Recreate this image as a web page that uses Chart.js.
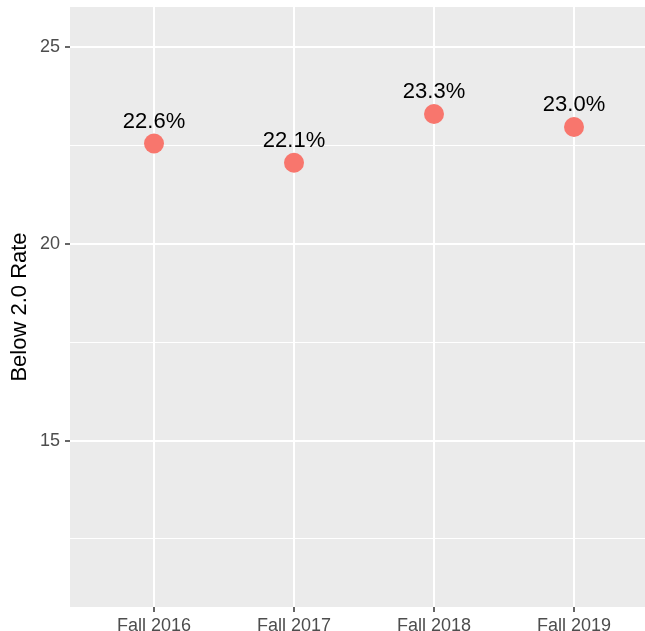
<!DOCTYPE html>
<html lang="en">
<head>
  <meta charset="UTF-8" />
  <title>Below 2.0 Rate</title>
  <script src="https://cdn.jsdelivr.net/npm/chart.js"></script>
  <style>
    html, body { margin: 0; padding: 0; background: #fff; overflow: hidden; }
    .chart-box { position: relative; width: 658px; height: 631px; }
  </style>
</head>
<body>
  <div class="chart-box">
    <canvas id="rateChart"></canvas>
  </div>

  <script>
    // data
    const terms = ['Fall 2016', 'Fall 2017', 'Fall 2018', 'Fall 2019'];
    const rates = [22.55, 22.06, 23.3, 22.97];
    const rateLabels = ['22.6%', '22.1%', '23.3%', '23.0%'];
    const yTicks = [12.5, 15, 17.5, 20, 22.5, 25];

    const isMajor = v => v % 5 === 0;

    // grey ggplot-like panel behind the grid
    const panelBg = {
      id: 'panelBg',
      beforeDraw(chart) {
        const a = chart.chartArea;
        const ctx = chart.ctx;
        ctx.save();
        ctx.fillStyle = '#EBEBEB';
        ctx.fillRect(a.left, a.top, a.right - a.left, a.bottom - a.top);
        ctx.restore();
      }
    };

    // percentage text above each point
    const pointText = {
      id: 'pointText',
      afterDatasetsDraw(chart) {
        const ctx = chart.ctx;
        const meta = chart.getDatasetMeta(0);
        ctx.save();
        ctx.font = '22px "Liberation Sans", Arial, sans-serif';
        ctx.fillStyle = '#000';
        ctx.textAlign = 'center';
        ctx.textBaseline = 'alphabetic';
        meta.data.forEach((pt, i) => {
          ctx.fillText(rateLabels[i], pt.x, pt.y - 16);
        });
        ctx.restore();
      }
    };

    const ctx = document.getElementById('rateChart').getContext('2d');
    new Chart(ctx, {
      type: 'scatter',
      data: {
        datasets: [{
          data: rates.map((r, i) => ({ x: i + 1, y: r })),
          backgroundColor: '#F8766D',
          borderWidth: 0,
          pointRadius: 10,
          pointHoverRadius: 10
        }]
      },
      options: {
        responsive: true,
        maintainAspectRatio: false,
        animation: false,
        layout: { autoPadding: false, padding: { top: 7, right: 0, bottom: 0, left: 0 } },
        plugins: {
          legend: { display: false },
          tooltip: { enabled: false }
        },
        scales: {
          x: {
            type: 'linear',
            min: 0.4,
            max: 4.6,
            afterBuildTicks: s => { s.ticks = terms.map((t, i) => ({ value: i + 1 })); },
            afterFit: s => {
              s.height = 24;
              s.paddingLeft = 0;
              s.paddingRight = 0;
            },
            border: { display: false },
            grid: {
              color: '#FFFFFF',
              lineWidth: 2,
              tickLength: 5,
              tickColor: '#333333',
              tickWidth: 1.5
            },
            ticks: {
              autoSkip: false,
              maxRotation: 0,
              padding: 3,
              color: '#4D4D4D',
              font: { family: '"Liberation Sans", Arial, sans-serif', size: 18 },
              callback: v => terms[v - 1]
            }
          },
          y: {
            min: 10.77,
            max: 26.02,
            afterBuildTicks: s => { s.ticks = yTicks.map(v => ({ value: v })); },
            afterFit: s => {
              s.width = 70;
              s.paddingTop = 0;
              s.paddingBottom = 0;
            },
            border: { display: false },
            grid: {
              color: '#FFFFFF',
              lineWidth: c => (c.tick && isMajor(c.tick.value)) ? 2 : 1,
              tickLength: 5,
              tickColor: c => (c.tick && isMajor(c.tick.value)) ? '#333333' : 'rgba(0,0,0,0)',
              tickWidth: 1.5
            },
            ticks: {
              padding: 5,
              color: '#4D4D4D',
              font: { family: '"Liberation Sans", Arial, sans-serif', size: 18 },
              callback: v => isMajor(v) ? String(v) : ''
            },
            title: {
              display: true,
              text: 'Below 2.0 Rate',
              color: '#000',
              padding: { top: 7, bottom: 0 },
              font: { family: '"Liberation Sans", Arial, sans-serif', size: 22 }
            }
          }
        }
      },
      plugins: [panelBg, pointText]
    });
  </script>
</body>
</html>
